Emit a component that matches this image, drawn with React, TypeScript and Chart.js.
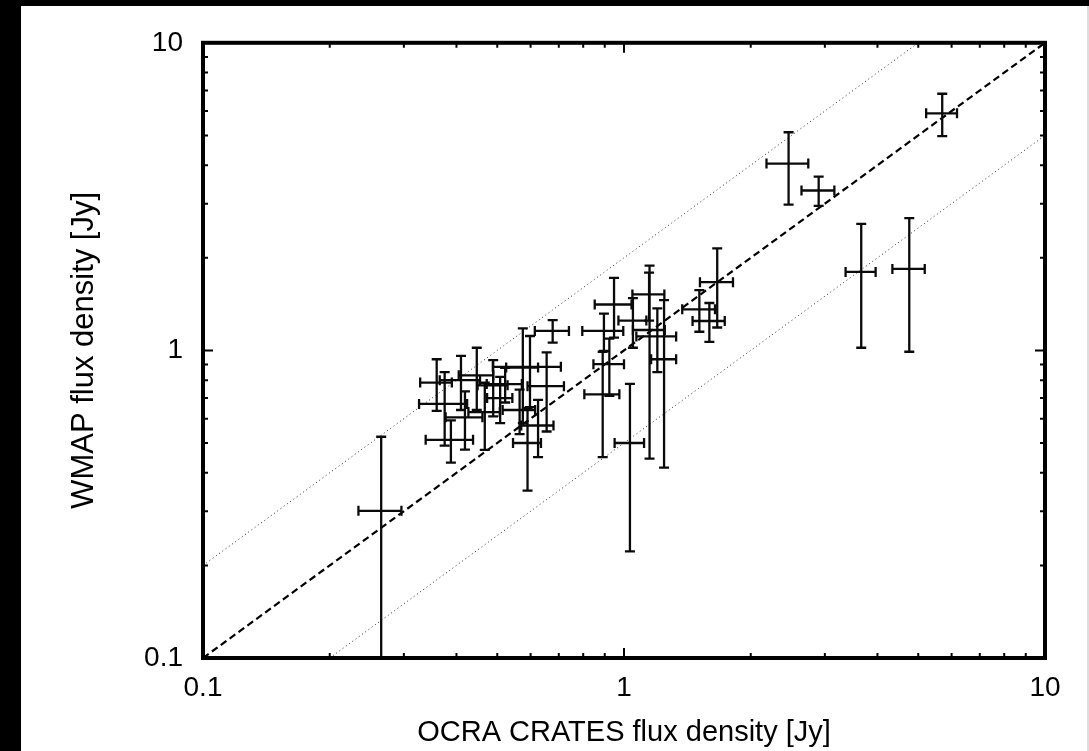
import React, { useEffect, useRef } from "react";
import { Chart, registerables } from "chart.js";

Chart.register(...registerables);

// OCRA CRATES flux density [Jy] (x) and WMAP flux density [Jy] (y), with 1-sigma errors
const ocraFlux = [
  5.70, 2.46, 2.90, 3.66, 4.76, 1.665, 1.51, 1.595,
  0.947, 1.033, 1.147, 1.15, 1.05, 1.245, 1.20, 0.923, 0.89, 0.896, 0.677,
  0.265, 0.359, 0.375, 0.388, 0.419, 0.41, 0.447, 0.467, 0.489,
  0.598, 0.575, 0.655, 0.522, 0.508, 0.565, 0.625, 0.59,
];
const wmapFlux = [
  5.90, 4.05, 3.31, 1.80, 1.84, 1.667, 1.36, 1.246,
  1.41, 0.50, 1.52, 1.165, 1.25, 0.936, 1.11, 0.902, 0.72, 1.157, 1.157,
  0.301, 0.786, 0.67, 0.512, 0.606, 0.80, 0.83, 0.63, 0.77,
  0.884, 0.88, 0.765, 0.777, 0.70, 0.64, 0.57, 0.50,
];
const ocraErr = [
  0.48, 0.28, 0.26, 0.30, 0.42, 0.15, 0.135, 0.14,
  0.095, 0.083, 0.10, 0.10, 0.08, 0.085, 0.13, 0.077, 0.085, 0.10, 0.063,
  0.031, 0.031, 0.049, 0.05, 0.042, 0.045, 0.042, 0.04, 0.04,
  0.11, 0.05, 0.065, 0.05, 0.035, 0.05, 0.055, 0.045,
];
const wmapErr = [
  0.93, 1.07, 0.36, 0.78, 0.85, 0.48, 0.21, 0.18,
  0.31, 0.278, 0.27, 0.72, 0.23, 0.52, 0.26, 0.19, 0.27, 0.16, 0.097,
  0.223, 0.15, 0.18, 0.08, 0.13, 0.16, 0.19, 0.155, 0.16,
  0.23, 0.30, 0.22, 0.10, 0.12, 0.106, 0.12, 0.15,
];

// reference lines: y = x, y = 2x, y = x/2
const equalLineX = [0.1, 10];
const equalLineY = [0.1, 10];
const upperLineX = [0.1, 5];
const upperLineY = [0.2, 10];
const lowerLineX = [0.2, 10];
const lowerLineY = [0.1, 5];

const tickValues = [0.1, 1, 10];
const tickLabels = ["0.1", "1", "10"];
const minorMultipliers = [2, 3, 4, 5, 6, 7, 8, 9];

const FONT = "'Liberation Sans', Arial, Helvetica, sans-serif";

const framePlugin = {
  id: "gnuplotFrame",
  afterDatasetsDraw(chart: any) {
    const { ctx, chartArea: a, scales } = chart;
    const xs = scales.x;
    const ys = scales.y;
    ctx.save();
    ctx.beginPath();
    ctx.rect(a.left, a.top, a.right - a.left, a.bottom - a.top);
    ctx.clip();
    ctx.strokeStyle = "#0a0a0a";
    ctx.lineWidth = 2.3;
    const cap = 5;
    for (let i = 0; i < ocraFlux.length; i++) {
      const cx = xs.getPixelForValue(ocraFlux[i]);
      const cy = ys.getPixelForValue(wmapFlux[i]);
      const x0 = xs.getPixelForValue(Math.max(ocraFlux[i] - ocraErr[i], 1e-4));
      const x1 = xs.getPixelForValue(ocraFlux[i] + ocraErr[i]);
      const y0 = ys.getPixelForValue(Math.max(wmapFlux[i] - wmapErr[i], 1e-4));
      const y1 = ys.getPixelForValue(wmapFlux[i] + wmapErr[i]);
      ctx.beginPath();
      ctx.moveTo(x0, cy); ctx.lineTo(x1, cy);
      ctx.moveTo(x0, cy - cap); ctx.lineTo(x0, cy + cap);
      ctx.moveTo(x1, cy - cap); ctx.lineTo(x1, cy + cap);
      ctx.moveTo(cx, y0); ctx.lineTo(cx, y1);
      ctx.moveTo(cx - cap, y0); ctx.lineTo(cx + cap, y0);
      ctx.moveTo(cx - cap, y1); ctx.lineTo(cx + cap, y1);
      ctx.stroke();
    }
    ctx.restore();
  },
  afterDraw(chart: any) {
    const { ctx, chartArea: a, scales } = chart;
    const xs = scales.x;
    const ys = scales.y;
    ctx.save();
    ctx.strokeStyle = "#000";
    ctx.lineWidth = 2;
    const major = 10;
    const minor = 5;
    const drawTick = (v: number, len: number) => {
      const px = xs.getPixelForValue(v);
      const py = ys.getPixelForValue(v);
      ctx.beginPath();
      ctx.moveTo(px, a.bottom); ctx.lineTo(px, a.bottom - len);
      ctx.moveTo(px, a.top); ctx.lineTo(px, a.top + len);
      ctx.moveTo(a.left, py); ctx.lineTo(a.left + len, py);
      ctx.moveTo(a.right, py); ctx.lineTo(a.right - len, py);
      ctx.stroke();
    };
    tickValues.forEach((v) => drawTick(v, major));
    [0.1, 1].forEach((d) => minorMultipliers.forEach((m) => drawTick(d * m, minor)));
    ctx.lineWidth = 4;
    ctx.strokeRect(a.left, a.top, a.right - a.left, a.bottom - a.top);
    ctx.restore();
  },
};

function toPoints(xv: number[], yv: number[]) {
  return xv.map((v, i) => ({ x: v, y: yv[i] }));
}

export default function App() {
  const ref = useRef<HTMLCanvasElement | null>(null);
  useEffect(() => {
    if (!ref.current) return;
    const chart = new Chart(ref.current, {
      type: "scatter",
      data: {
        datasets: [
          {
            type: "line",
            data: toPoints(equalLineX, equalLineY),
            borderColor: "#000",
            borderWidth: 2.2,
            borderDash: [7, 4],
            pointRadius: 0,
            fill: false,
          } as any,
          {
            type: "line",
            data: toPoints(upperLineX, upperLineY),
            borderColor: "#333",
            borderWidth: 1,
            borderDash: [1, 3],
            pointRadius: 0,
            fill: false,
          } as any,
          {
            type: "line",
            data: toPoints(lowerLineX, lowerLineY),
            borderColor: "#333",
            borderWidth: 1,
            borderDash: [1, 3],
            pointRadius: 0,
            fill: false,
          } as any,
          {
            type: "scatter",
            data: toPoints(ocraFlux, wmapFlux),
            pointRadius: 0,
            borderColor: "#111",
          } as any,
        ],
      },
      options: {
        animation: false,
        responsive: false,
        maintainAspectRatio: false,
        layout: { padding: { left: 0, right: 41, top: 35, bottom: 0 } },
        plugins: { legend: { display: false }, tooltip: { enabled: false } },
        scales: {
          x: {
            type: "logarithmic",
            min: 0.1,
            max: 10,
            position: "bottom",
            afterBuildTicks: (s: any) => {
              s.ticks = tickValues.map((v) => ({ value: v }));
            },
            afterFit: (s: any) => {
              s.height = 93;
            },
            ticks: {
              callback: (_v: any, i: number) => tickLabels[i],
              font: { family: FONT, size: 28 },
              color: "#000",
              padding: 13,
              maxRotation: 0,
              autoSkip: false,
            },
            grid: { display: false, drawTicks: false },
            border: { display: false },
            title: {
              display: true,
              text: "OCRA CRATES flux density [Jy]",
              font: { family: FONT, size: 29 },
              color: "#000",
              padding: { top: 0, bottom: 1 },
            },
          },
          y: {
            type: "logarithmic",
            min: 0.1,
            max: 10,
            position: "left",
            afterBuildTicks: (s: any) => {
              s.ticks = tickValues.map((v) => ({ value: v }));
            },
            afterFit: (s: any) => {
              s.width = 182;
            },
            ticks: {
              callback: (_v: any, i: number) => tickLabels[i],
              font: { family: FONT, size: 28 },
              color: "#000",
              padding: 20,
              autoSkip: false,
            },
            grid: { display: false, drawTicks: false },
            border: { display: false },
            title: {
              display: true,
              text: "WMAP flux density [Jy]",
              font: { family: FONT, size: 31 },
              color: "#000",
              padding: { top: 45, bottom: 0 },
            },
          },
        },
      } as any,
      plugins: [framePlugin],
    });
    return () => chart.destroy();
  }, []);

  return (
    <div style={{ position: "fixed", left: 0, top: 0, width: 1089, height: 751, background: "#000" }}>
      <div style={{ position: "absolute", left: 21, top: 6, width: 1066, height: 745, background: "#fff" }}>
        <canvas ref={ref} width={1065} height={745} style={{ display: "block", width: 1065, height: 745 }} />
      </div>
      <div style={{ position: "absolute", left: 1087, top: 6, width: 2, height: 745, background: "#ddd" }} />
    </div>
  );
}
